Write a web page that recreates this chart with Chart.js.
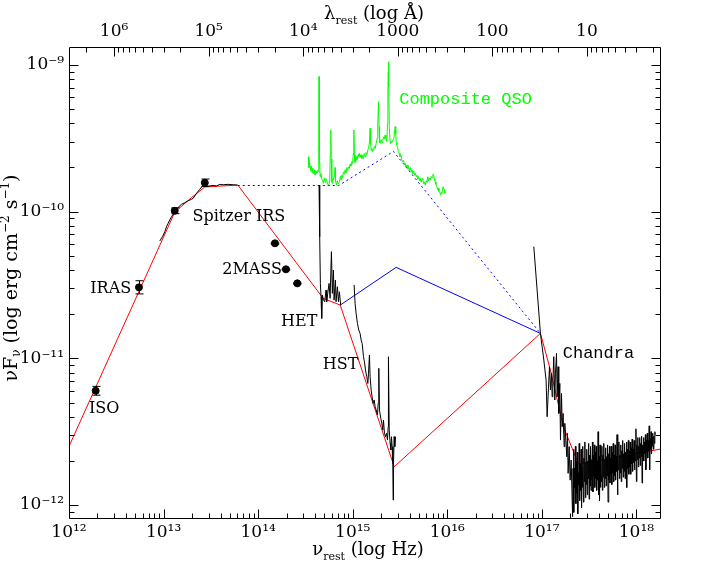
<!DOCTYPE html>
<html><head><meta charset="utf-8">
<script src="https://cdn.jsdelivr.net/npm/chart.js@4.4.0/dist/chart.umd.min.js"></script>
<style>html,body{margin:0;padding:0;background:#fff}#wrap{width:727px;height:581px}</style>
</head><body><div id="wrap"><canvas id="c" width="727" height="581"></canvas></div>
<script>
// ---------- axis ranges (log10 units) ----------
const C_ANG = 2.998e18; // speed of light in Angstrom/s
const xLogMin = 12.0, xLogMax = 18.26;
const yLogMin = -12.095, yLogMax = -8.878;
const xDecades = [12, 13, 14, 15, 16, 17, 18];
const yDecades = [-12, -11, -10, -9];
const lamTicks = [1e6, 1e5, 1e4, 1000, 100, 10];
const lamLabels = ['10⁶', '10⁵', '10⁴', '1000', '100', '10'];

// ---------- model SED (red) ----------
const redLogNu   = [12.0, 13.119, 13.278, 13.436, 13.785, 14.688, 14.868, 15.439, 16.985, 17.091, 17.229, 17.388, 18.26];
const redLogFlux = [-11.60, -10.003, -9.914, -9.832, -9.819, -10.591, -10.637, -11.739, -10.830, -11.080, -11.468, -11.721, -11.618];

// ---------- blue solid / dotted ----------
const blueLogNu   = [14.868, 15.459, 16.985];
const blueLogFlux = [-10.637, -10.380, -10.830];
const dotLogNu    = [13.785, 14.852, 15.431, 16.985];
const dotLogFlux  = [-9.822, -9.822, -9.590, -10.830];

// ---------- photometry ----------
const photLogNu   = [12.282, 12.740, 13.118, 13.436, 14.178, 14.294, 14.414];
const photLogFlux = [-11.221, -10.516, -9.994, -9.803, -10.216, -10.393, -10.489];
const photErr     = [0.03, 0.045, 0.02, 0.025, 0, 0, 0];
const photXErr    = [0, 0, 0, 0, 0.045, 0.045, 0.045];

// ---------- Spitzer IRS spectrum ----------
const irsLogNu   = [12.960,12.988,13.013,13.031,13.048,13.066,13.084,13.119,13.154,13.190,13.225,13.260,13.296,13.313,13.349,13.383,13.412,13.447,13.489,13.524,13.560,13.595,13.630,13.683,13.736,13.779];
const irsLogFlux = [-10.200,-10.171,-10.137,-10.103,-10.080,-10.057,-10.035,-10.001,-9.971,-9.950,-9.939,-9.926,-9.916,-9.909,-9.875,-9.848,-9.825,-9.830,-9.825,-9.821,-9.825,-9.814,-9.817,-9.814,-9.817,-9.819];

// ---------- HET spectrum ----------
const hetLogNu   = [14.644,14.651,14.658,14.665,14.672,14.679,14.690,14.704,14.718,14.725,14.736,14.750,14.761,14.775,14.785,14.796,14.803,14.817,14.824,14.838,14.849,14.859,14.873];
const hetLogFlux = [-9.819,-10.171,-10.489,-10.580,-10.728,-10.568,-10.603,-10.614,-10.534,-10.614,-10.557,-10.489,-10.591,-10.273,-10.557,-10.398,-10.603,-10.466,-10.614,-10.512,-10.614,-10.546,-10.637];

// ---------- HST spectrum ----------
const hstLogNu   = [15.015,15.025,15.036,15.050,15.064,15.078,15.089,15.100,15.114,15.124,15.135,15.149,15.160,15.167,15.177,15.184,15.195,15.205,15.216,15.227,15.237,15.248,15.262,15.269,15.276,15.283,15.297,15.308,15.318,15.325,15.336,15.347,15.357,15.368,15.375,15.378,15.386,15.396,15.403,15.410,15.417,15.424,15.428,15.431,15.438,15.445,15.453];
const hstLogFlux = [-10.500,-10.625,-10.693,-10.762,-10.807,-10.830,-10.875,-10.898,-10.989,-11.023,-11.080,-11.125,-11.171,-11.102,-10.977,-11.125,-11.216,-11.262,-11.307,-11.284,-11.330,-11.352,-11.386,-11.307,-11.068,-11.352,-11.409,-11.443,-11.489,-11.420,-11.511,-11.534,-11.511,-11.557,-11.466,-10.989,-11.489,-11.580,-11.625,-11.534,-11.602,-11.716,-11.966,-11.739,-11.534,-11.602,-11.534];

// ---------- Chandra spectrum ----------
const chaLogNu = [16.915,16.985,17.021,17.045,17.056,17.074,17.081,17.091,17.102,17.109,17.116,17.126,17.137,17.144,17.155,17.162,17.172,17.179,17.190,17.197,17.208,17.215,17.225,17.236,17.243,17.254,17.264,17.271,17.278,17.289,17.299,17.310,
 17.325,17.330,17.335,17.340,17.345,17.350,17.355,17.360,17.365,17.370,
 17.375,17.380,17.385,17.390,17.395,17.400,17.405,17.410,17.415,17.420,
 17.425,17.430,17.435,17.440,17.445,17.450,17.455,17.460,17.465,17.470,
 17.475,17.480,17.485,17.490,17.495,17.500,17.505,17.510,17.515,17.520,
 17.525,17.530,17.535,17.540,17.545,17.550,17.555,17.560,17.565,17.570,
 17.575,17.580,17.585,17.590,17.595,17.600,17.605,17.610,17.615,17.620,
 17.625,17.630,17.635,17.640,17.645,17.650,17.655,17.660,17.665,17.670,
 17.675,17.680,17.685,17.690,17.695,17.700,17.705,17.710,17.715,17.720,
 17.725,17.730,17.735,17.740,17.745,17.750,17.755,17.760,17.765,17.770,
 17.775,17.780,17.785,17.790,17.795,17.800,17.805,17.810,17.815,17.820,
 17.825,17.830,17.835,17.840,17.845,17.850,17.855,17.860,17.865,17.870,
 17.875,17.880,17.885,17.890,17.895,17.900,17.905,17.910,17.915,17.920,
 17.925,17.930,17.935,17.940,17.945,17.950,17.955,17.960,17.965,17.970,
 17.975,17.980,17.985,17.990,17.995,18.000,18.005,18.010,18.015,18.020,
 18.025,18.030,18.035,18.040,18.045,18.050,18.055,18.060,18.065,18.070,
 18.075,18.080,18.085,18.090,18.095,18.100,18.105,18.110,18.115,18.120,
 18.125,18.130,18.135,18.140,18.145,18.150,18.155,18.160,18.165,18.170,
 18.175,18.180,18.185,18.190,18.195,18.200];
const chaLogFlux = [-10.239,-10.830,-11.012,-11.148,-11.398,-11.148,-11.057,-11.216,-11.102,-11.262,-11.171,-10.989,-11.284,-11.102,-10.966,-11.262,-11.057,-11.375,-11.171,-11.557,-11.239,-11.466,-11.375,-11.602,-11.443,-11.557,-11.671,-11.511,-11.784,-11.602,-11.830,-11.693,
 -12.08,-11.75,-11.62,-12.05,-11.75,-11.88,-11.60,-11.99,-11.70,-11.92,
 -11.64,-12.06,-11.78,-11.86,-11.58,-11.97,-11.72,-11.90,-11.62,-12.02,
 -11.74,-11.88,-11.60,-11.98,-11.68,-11.84,-11.57,-11.95,-11.71,-11.86,
 -11.62,-11.93,-11.70,-11.82,-11.58,-11.96,-11.66,-11.87,-11.60,-11.90,
 -11.69,-11.83,-11.57,-11.91,-11.66,-11.80,-11.59,-11.88,-11.64,-11.82,
 -11.60,-11.90,-11.70,-11.83,-11.50,-11.93,-11.67,-11.97,-11.59,-11.88,
 -11.70,-11.84,-11.60,-11.90,-11.66,-11.81,-11.58,-11.88,-11.69,-11.82,
 -11.61,-11.87,-11.67,-11.80,-11.59,-11.98,-11.65,-11.83,-11.60,-11.85,
 -11.68,-11.79,-11.60,-11.86,-11.64,-11.78,-11.58,-11.84,-11.66,-11.80,
 -11.59,-11.83,-11.67,-11.77,-11.52,-11.93,-11.64,-11.76,-11.57,-11.82,
 -11.66,-11.78,-11.59,-11.84,-11.63,-11.75,-11.56,-11.81,-11.65,-11.77,
 -11.58,-11.82,-11.64,-11.74,-11.57,-11.88,-11.62,-11.75,-11.56,-11.79,
 -11.63,-11.74,-11.57,-11.79,-11.61,-11.72,-11.55,-11.77,-11.62,-11.71,
 -11.56,-11.76,-11.61,-11.70,-11.48,-11.84,-11.59,-11.69,-11.54,-11.74,
 -11.60,-11.68,-11.54,-11.73,-11.58,-11.67,-11.53,-11.85,-11.59,-11.66,
 -11.54,-11.70,-11.57,-11.65,-11.52,-11.76,-11.56,-11.64,-11.51,-11.68,
 -11.56,-11.63,-11.46,-11.76,-11.55,-11.62,-11.50,-11.65,-11.54,-11.60,
 -11.51,-11.62,-11.53,-11.58,-11.50,-11.52];

// ---------- Composite QSO (green) ----------
const qsoLogNu = [14.531,14.537,14.543,14.549,14.556,14.563,14.570,14.577,14.584,14.591,14.598,14.605,14.612,14.619,14.628,14.637,14.641,14.644,14.648,14.655,
 14.663,14.672,14.681,14.690,14.700,14.708,14.716,14.725,14.735,14.746,14.757,14.763,14.768,14.773,14.779,14.785,14.790,14.796,14.805,14.810,
 14.814,14.818,14.828,14.838,14.847,14.860,14.870,14.877,14.884,14.893,14.902,14.911,14.920,14.928,14.937,14.946,14.955,14.964,14.972,14.981,
 14.990,14.998,15.008,15.012,15.018,15.024,15.029,15.036,15.043,15.050,15.060,15.066,15.071,15.079,15.088,15.096,15.104,15.113,15.122,15.131,
 15.140,15.150,15.160,15.170,15.178,15.184,15.190,15.196,15.202,15.211,15.220,15.229,15.237,15.248,15.258,15.265,15.273,15.279,15.284,15.290,
 15.300,15.310,15.319,15.328,15.335,15.343,15.352,15.361,15.368,15.372,15.376,15.379,15.383,15.387,15.396,15.404,15.412,15.424,15.436,15.445,
 15.449,15.455,15.461,15.467,15.475,15.483,15.491,15.500,15.510,15.520,15.528,15.538,15.547,15.555,15.565,15.575,15.584,15.590,15.600,15.610,
 15.618,15.626,15.636,15.646,15.655,15.661,15.670,15.679,15.688,15.697,15.706,15.714,15.724,15.733,15.742,15.750,15.758,15.767,15.776,15.785,
 15.795,15.803,15.812,15.820,15.830,15.840,15.848,15.855,15.862,15.868,15.873,15.880,15.890,15.898,15.905,15.912,15.919,15.928,15.936,15.943,
 15.950,15.955,15.961,15.966,15.972,15.979];
const qsoLogFlux = [-9.626,-9.700,-9.660,-9.694,-9.720,-9.690,-9.735,-9.705,-9.728,-9.745,-9.715,-9.750,-9.725,-9.739,-9.720,-9.728,-9.500,-9.080,-9.600,-9.762,
 -9.740,-9.773,-9.790,-9.807,-9.770,-9.800,-9.775,-9.785,-9.815,-9.819,-9.790,-9.600,-9.444,-9.640,-9.795,-9.807,-9.775,-9.785,-9.760,-9.716,
 -9.700,-9.790,-9.819,-9.790,-9.812,-9.796,-9.760,-9.785,-9.751,-9.770,-9.730,-9.745,-9.716,-9.735,-9.700,-9.720,-9.694,-9.705,-9.675,-9.690,
 -9.660,-9.672,-9.600,-9.444,-9.610,-9.665,-9.648,-9.625,-9.650,-9.637,-9.610,-9.625,-9.603,-9.630,-9.612,-9.637,-9.615,-9.640,-9.605,-9.626,
 -9.598,-9.612,-9.580,-9.560,-9.520,-9.432,-9.540,-9.585,-9.569,-9.590,-9.580,-9.555,-9.570,-9.535,-9.500,-9.400,-9.251,-9.420,-9.530,-9.535,
 -9.510,-9.530,-9.512,-9.490,-9.505,-9.478,-9.500,-9.523,-9.400,-9.200,-9.050,-8.978,-9.150,-9.420,-9.535,-9.520,-9.530,-9.512,-9.500,-9.440,
 -9.421,-9.470,-9.530,-9.546,-9.565,-9.590,-9.603,-9.625,-9.615,-9.648,-9.660,-9.650,-9.680,-9.671,-9.700,-9.682,-9.710,-9.694,-9.720,-9.700,
 -9.730,-9.716,-9.745,-9.725,-9.750,-9.739,-9.760,-9.751,-9.780,-9.760,-9.790,-9.773,-9.800,-9.775,-9.785,-9.810,-9.800,-9.819,-9.790,-9.800,
 -9.762,-9.790,-9.770,-9.785,-9.760,-9.770,-9.745,-9.751,-9.775,-9.790,-9.796,-9.815,-9.830,-9.850,-9.840,-9.862,-9.864,-9.885,-9.870,-9.875,
 -9.845,-9.830,-9.830,-9.850,-9.875,-9.864];

// ---------- annotations ----------
const annLabels  = ['Composite QSO', 'Spitzer IRS', '2MASS', 'IRAS', 'ISO', 'HET', 'HST', 'Chandra'];
const annLogNu   = [15.492, 13.306, 13.620, 12.225, 12.211, 14.242, 14.683, 17.221];
const annLogFlux = [-9.239, -10.037, -10.398, -10.523, -11.341, -10.750, -11.046, -10.966];
const annColor   = ['#00ff00', '#000', '#000', '#000', '#000', '#000', '#000', '#000'];
const annFont    = ['17px "Liberation Mono"', '16px "DejaVu Serif"', '16px "DejaVu Serif"', '16px "DejaVu Serif"', '16px "DejaVu Serif"', '16px "DejaVu Serif"', '16px "DejaVu Serif"', '17px "Liberation Mono"'];

// ---------- helpers ----------
const SUP = {'-':'⁻','0':'⁰','1':'¹','2':'²','3':'³','4':'⁴','5':'⁵','6':'⁶','7':'⁷','8':'⁸','9':'⁹'};
const sup = n => String(n).split('').map(c => SUP[c]).join('');
const pts = (lx, ly) => lx.map((v, i) => ({x: Math.pow(10, v), y: Math.pow(10, ly[i])}));
const line = (lx, ly, color, order, extra) => Object.assign({
  data: pts(lx, ly), showLine: true, pointRadius: 0, borderColor: color, borderWidth: 1,
  borderJoinStyle: 'round', xAxisID: 'x', yAxisID: 'y', order: order
}, extra || {});

const tickFont = {family: 'DejaVu Serif', size: 17};

const frameTicks = {
  id: 'frameTicks',
  afterDraw(chart) {
    const {ctx, chartArea: a, scales} = chart;
    const L = Math.round(a.left) + 0.5, R = Math.round(a.right) - 0.5, T = Math.round(a.top) + 0.5, B = Math.round(a.bottom) - 0.5;
    ctx.save();
    ctx.strokeStyle = '#000'; ctx.lineWidth = 1;
    ctx.beginPath();
    ctx.rect(L, T, R - L, B - T);
    const sx = scales.x, sx2 = scales.x2, sy = scales.y;
    for (let e = 11; e <= 18; e++) for (let k = 1; k <= 9; k++) {
      const v = k * Math.pow(10, e);
      if (v <= sx.min * 1.0001 || v >= sx.max * 0.9999) continue;
      const px = Math.round(sx.getPixelForValue(v)) + 0.5, len = k === 1 ? 9 : 5;
      ctx.moveTo(px, B); ctx.lineTo(px, B - len);
    }
    for (let e = 0; e <= 6; e++) for (let k = 1; k <= 9; k++) {
      const v = k * Math.pow(10, e);
      if (v <= sx2.min * 1.0001 || v >= sx2.max * 0.9999) continue;
      const px = Math.round(sx2.getPixelForValue(v)) + 0.5, len = k === 1 ? 9 : 5;
      ctx.moveTo(px, T); ctx.lineTo(px, T + len);
    }
    for (let e = -13; e <= -9; e++) for (let k = 1; k <= 9; k++) {
      const v = k * Math.pow(10, e);
      if (v <= sy.min * 1.0001 || v >= sy.max * 0.9999) continue;
      const py = Math.round(sy.getPixelForValue(v)) + 0.5, len = k === 1 ? 9 : 5;
      ctx.moveTo(L, py); ctx.lineTo(L + len, py);
      ctx.moveTo(R, py); ctx.lineTo(R - len, py);
    }
    ctx.stroke();

    // axis titles with sub/superscripts
    const rich = (parts, cx, by) => {
      let w = 0;
      parts.forEach(p => { ctx.font = p.f; p.w = ctx.measureText(p.t).width; w += p.w; });
      let x = cx - w / 2;
      parts.forEach(p => { ctx.font = p.f; ctx.fillText(p.t, x, by + (p.dy || 0)); x += p.w; });
    };
    const big = '18px "DejaVu Serif"', small = '11px "DejaVu Serif"';
    ctx.fillStyle = '#000'; ctx.textBaseline = 'alphabetic'; ctx.textAlign = 'left';
    const cx = (a.left + a.right) / 2;
    rich([{t: 'ν', f: big}, {t: 'rest', f: small, dy: 5}, {t: ' (log Hz)', f: big}], cx + 3, 555);
    rich([{t: 'λ', f: big}, {t: 'rest', f: small, dy: 5}, {t: ' (log Å)', f: big}], cx + 9, 19);
    ctx.save();
    ctx.translate(17, 278); ctx.rotate(-Math.PI / 2);
    const bigY = '19px "DejaVu Serif"', smallY = '12px "DejaVu Serif"';
    rich([{t: 'νF', f: bigY}, {t: 'ν', f: smallY, dy: 3}, {t: ' (log erg cm', f: bigY}, {t: '−2', f: smallY, dy: -8},
          {t: ' s', f: bigY}, {t: '−1', f: smallY, dy: -8}, {t: ')', f: bigY}], 0, 0);
    ctx.restore();
    ctx.restore();
  }
};

const extras = {
  id: 'extras',
  afterDatasetsDraw(chart) {
    const {ctx, scales} = chart;
    const sx = scales.x, sy = scales.y;
    ctx.save();
    ctx.strokeStyle = '#000'; ctx.lineWidth = 1;
    ctx.beginPath();
    photErr.forEach((e, i) => {
      const px = Math.round(sx.getPixelForValue(Math.pow(10, photLogNu[i]))) + 0.5;
      const py = Math.round(sy.getPixelForValue(Math.pow(10, photLogFlux[i]))) + 0.5;
      if (e) {
        const y1 = sy.getPixelForValue(Math.pow(10, photLogFlux[i] + e));
        const y2 = sy.getPixelForValue(Math.pow(10, photLogFlux[i] - e));
        ctx.moveTo(px, y1); ctx.lineTo(px, y2);
        ctx.moveTo(px - 4, y1); ctx.lineTo(px + 4, y1);
        ctx.moveTo(px - 4, y2); ctx.lineTo(px + 4, y2);
      }
      const xe = photXErr[i];
      if (xe) {
        const x1 = sx.getPixelForValue(Math.pow(10, photLogNu[i] - xe));
        const x2 = sx.getPixelForValue(Math.pow(10, photLogNu[i] + xe));
        ctx.moveTo(x1, py - 0.5); ctx.lineTo(x2, py - 0.5);
        ctx.moveTo(x1, py + 0.5); ctx.lineTo(x2, py + 0.5);
      }
    });
    ctx.stroke();
    ctx.textBaseline = 'middle'; ctx.textAlign = 'left';
    annLabels.forEach((t, i) => {
      ctx.font = annFont[i]; ctx.fillStyle = annColor[i];
      ctx.fillText(t, sx.getPixelForValue(Math.pow(10, annLogNu[i])), sy.getPixelForValue(Math.pow(10, annLogFlux[i])));
    });
    ctx.restore();
  }
};

new Chart(document.getElementById('c'), {
  type: 'scatter',
  data: {
    datasets: [
      line(qsoLogNu, qsoLogFlux, '#00ff00', 1),
      line(irsLogNu, irsLogFlux, '#000000', 2),
      line(hetLogNu, hetLogFlux, '#000000', 2),
      line(hstLogNu, hstLogFlux, '#000000', 2),
      line(chaLogNu, chaLogFlux, '#000000', 2),
      line(blueLogNu, blueLogFlux, '#0000ff', 4),
      line(dotLogNu, dotLogFlux, '#0000ff', 4, {borderDash: [2, 3]}),
      line(redLogNu, redLogFlux, '#ff0000', 5),
      {data: pts(photLogNu, photLogFlux), showLine: false, pointRadius: 3.5, pointBackgroundColor: '#000',
       pointBorderColor: '#000', pointBorderWidth: 1, xAxisID: 'x', yAxisID: 'y', order: 0}
    ]
  },
  options: {
    responsive: false, animation: false, devicePixelRatio: 1,
    layout: {padding: {left: 0, right: 66, top: 0, bottom: 0}},
    plugins: {legend: {display: false}, tooltip: {enabled: false}},
    scales: {
      x: {
        type: 'logarithmic', position: 'bottom', min: Math.pow(10, xLogMin), max: Math.pow(10, xLogMax),
        grid: {display: false, drawTicks: false}, border: {display: false},
        afterBuildTicks: s => { s.ticks = xDecades.map(e => ({value: Math.pow(10, e)})); },
        ticks: {callback: v => '10' + sup(Math.round(Math.log10(v))), font: tickFont, color: '#000', padding: 3, maxRotation: 0, autoSkip: false},
        afterFit: s => { s.height = 62; }
      },
      x2: {
        type: 'logarithmic', position: 'top', reverse: true,
        min: C_ANG / Math.pow(10, xLogMax), max: C_ANG / Math.pow(10, xLogMin),
        grid: {display: false, drawTicks: false}, border: {display: false},
        afterBuildTicks: s => { s.ticks = lamTicks.map(v => ({value: v})); },
        ticks: {callback: (v, i) => lamLabels[i], font: tickFont, color: '#000', padding: 5, maxRotation: 0, autoSkip: false},
        afterFit: s => { s.height = 47; }
      },
      y: {
        type: 'logarithmic', position: 'left', min: Math.pow(10, yLogMin), max: Math.pow(10, yLogMax),
        grid: {display: false, drawTicks: false}, border: {display: false},
        afterBuildTicks: s => { s.ticks = yDecades.map(e => ({value: Math.pow(10, e)})); },
        ticks: {callback: v => '10' + sup(Math.round(Math.log10(v))), font: tickFont, color: '#000', padding: 5, autoSkip: false},
        afterFit: s => { s.width = 69; }
      }
    }
  },
  plugins: [frameTicks, extras]
});
</script>
</body></html>
